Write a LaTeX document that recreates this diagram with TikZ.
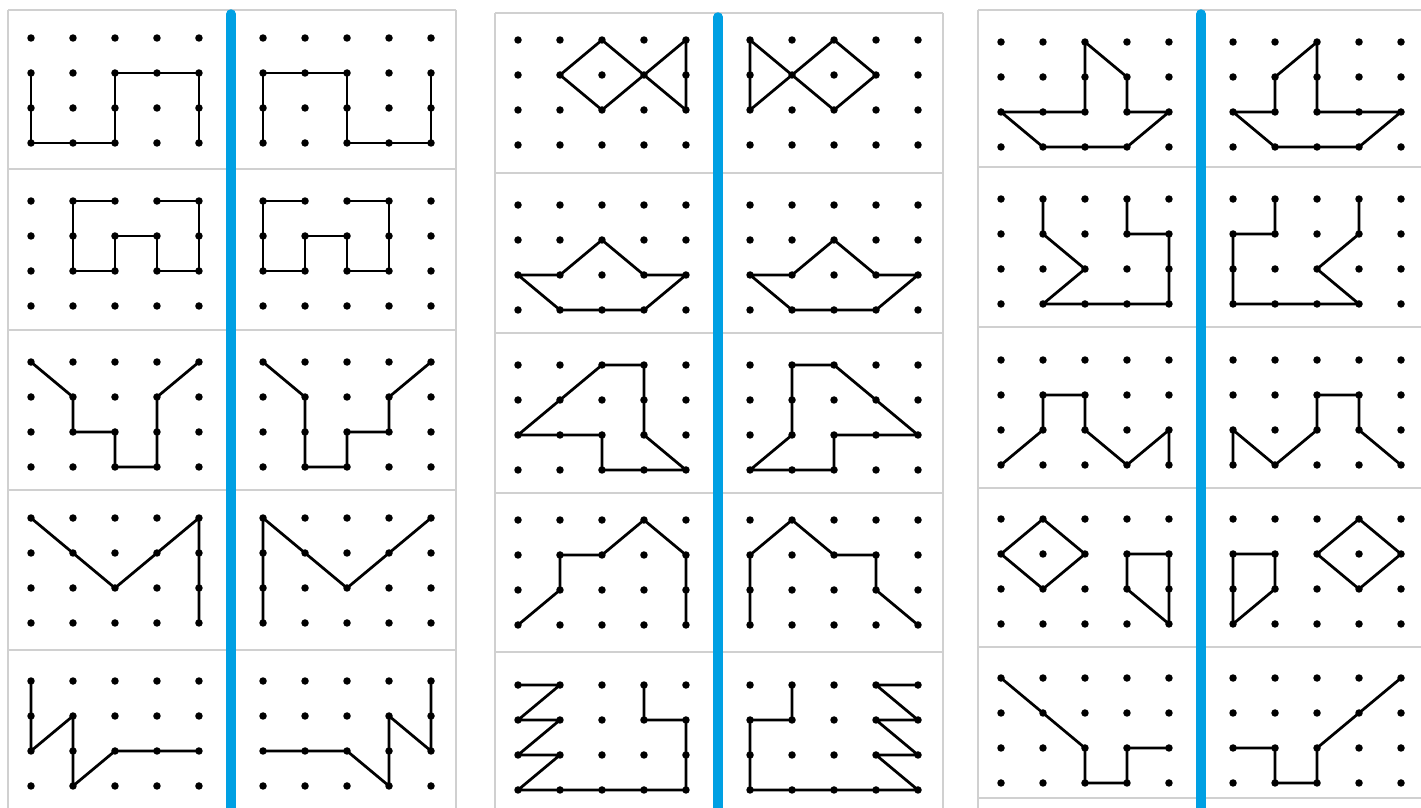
\documentclass[tikz,border=0pt]{standalone}
\usepackage{tikz}
\usetikzlibrary{calc}
\definecolor{barblue}{RGB}{0,160,227}
\definecolor{framegray}{RGB}{208,208,208}

\newcommand{\halfpanel}[4]{%
  \begin{scope}[shift={(#1,#2)}, x=#3, y=-0.7cm]
    \draw[figline] #4;
    \foreach \i in {0,...,4}
      \foreach \j in {0,...,3}
        \fill (\i,\j) circle[radius=0.075cm];
  \end{scope}}
\newcommand{\panelpair}[3]{%
  \halfpanel{#1-200}{#2}{0.84cm}{#3}%
  \halfpanel{#1+200}{#2}{-0.84cm}{#3}}

\begin{document}
\begin{tikzpicture}[x=0.02cm, y=-0.02cm,
    figline/.style={line width=0.055cm, line join=round, line cap=round},
    frameline/.style={draw=framegray, line width=0.03cm},
    mirrorbar/.style={draw=barblue, line width=0.19cm, line cap=round}]
  \useasboundingbox (0,0) rectangle (1421,808);
  \foreach \b/\t/\rows in {231/10/{10,169,330,490,650},
                           718/13/{13,173,333,493,652},
                           1201/10/{10,167,327,488,647,798}}{
    \foreach \y in \rows
      \draw[frameline] (\b-223,\y) -- (\b+225,\y);
    \foreach \xx in {\b-223,\b,\b+225}
      \draw[frameline] (\xx,\t) -- (\xx,812);
  }
  \foreach \b/\t in {231/14, 718/17, 1201/14}
    \draw[mirrorbar] (\b,\t) -- (\b,815);

  % column 1
  \panelpair{231}{38}{(0,1) -- (0,3) -- (2,3) -- (2,1) -- (4,1) -- (4,3)}
  \panelpair{231}{201}{(2,0) -- (1,0) -- (1,2) -- (2,2) -- (2,1) -- (3,1) -- (3,2) -- (4,2) -- (4,0) -- (3,0)}
  \panelpair{231}{362}{(0,0) -- (1,1) -- (1,2) -- (2,2) -- (2,3) -- (3,3) -- (3,1) -- (4,0)}
  \panelpair{231}{518}{(0,0) -- (2,2) -- (4,0) -- (4,3)}
  \panelpair{231}{681}{(0,0) -- (0,2) -- (1,1) -- (1,3) -- (2,2) -- (4,2)}
  % column 2
  \panelpair{718}{40}{(1,1) -- (2,0) -- (4,2) -- (4,0) -- (2,2) -- cycle}
  \panelpair{718}{205}{(0,2) -- (1,2) -- (2,1) -- (3,2) -- (4,2) -- (3,3) -- (1,3) -- cycle}
  \panelpair{718}{365}{(0,2) -- (2,0) -- (3,0) -- (3,2) -- (4,3) -- (2,3) -- (2,2) -- cycle}
  \panelpair{718}{520}{(0,3) -- (1,2) -- (1,1) -- (2,1) -- (3,0) -- (4,1) -- (4,3)}
  \panelpair{718}{685}{(0,0) -- (1,0) -- (0,1) -- (1,1) -- (0,2) -- (1,2) -- (0,3) -- (4,3) -- (4,1) -- (3,1) -- (3,0)}
  % column 3
  \panelpair{1201}{42}{(0,2) -- (2,2) -- (2,0) -- (3,1) -- (3,2) -- (4,2) -- (3,3) -- (1,3) -- cycle}
  \panelpair{1201}{199}{(1,0) -- (1,1) -- (2,2) -- (1,3) -- (4,3) -- (4,1) -- (3,1) -- (3,0)}
  \panelpair{1201}{360}{(0,3) -- (1,2) -- (1,1) -- (2,1) -- (2,2) -- (3,3) -- (4,2) -- (4,3)}
  \panelpair{1201}{519}{(1,0) -- (2,1) -- (1,2) -- (0,1) -- cycle (3,1) -- (4,1) -- (4,3) -- (3,2) -- cycle}
  \panelpair{1201}{678}{(0,0) -- (2,2) -- (2,3) -- (3,3) -- (3,2) -- (4,2)}
\end{tikzpicture}
\end{document}
